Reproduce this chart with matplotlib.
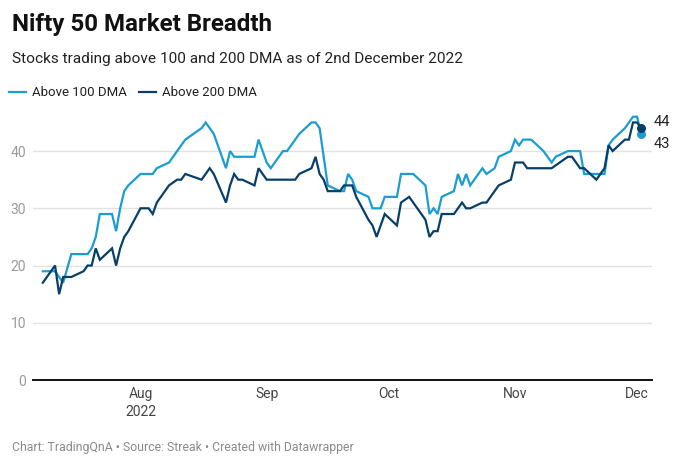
import matplotlib
matplotlib.use("Agg")
import matplotlib.pyplot as plt
import pandas as pd

# ---- data ----
dma100_dates = ["2022-07-08", "2022-07-11", "2022-07-13", "2022-07-15", "2022-07-19", "2022-07-20",
                "2022-07-21", "2022-07-22", "2022-07-25", "2022-07-26", "2022-07-27", "2022-07-28",
                "2022-07-29", "2022-08-01", "2022-08-04", "2022-08-05", "2022-08-08", "2022-08-12",
                "2022-08-16", "2022-08-17", "2022-08-19", "2022-08-22", "2022-08-23", "2022-08-24",
                "2022-08-29", "2022-08-30", "2022-09-01", "2022-09-02", "2022-09-05", "2022-09-06",
                "2022-09-09", "2022-09-12", "2022-09-13", "2022-09-14", "2022-09-16", "2022-09-19",
                "2022-09-20", "2022-09-21", "2022-09-22", "2022-09-23", "2022-09-26", "2022-09-27",
                "2022-09-29", "2022-09-30", "2022-10-03", "2022-10-04", "2022-10-07", "2022-10-10",
                "2022-10-11", "2022-10-12", "2022-10-13", "2022-10-14", "2022-10-17", "2022-10-18",
                "2022-10-19", "2022-10-20", "2022-10-21", "2022-10-24", "2022-10-25", "2022-10-27",
                "2022-10-28", "2022-10-31", "2022-11-01", "2022-11-02", "2022-11-03", "2022-11-05",
                "2022-11-08", "2022-11-10", "2022-11-11", "2022-11-14", "2022-11-17", "2022-11-18",
                "2022-11-22", "2022-11-23", "2022-11-24", "2022-11-25", "2022-11-28", "2022-11-29",
                "2022-11-30", "2022-12-01", "2022-12-02"]
dma100_values = [19, 19, 17, 22, 22, 23,
                 25, 29, 29, 26, 30, 33,
                 34, 36, 36, 37, 38, 42,
                 44, 45, 43, 37, 40, 39,
                 39, 42, 38, 37, 40, 40,
                 43, 45, 45, 44, 34, 33,
                 33, 36, 35, 33, 32, 30,
                 30, 32, 32, 36, 36, 34,
                 29, 30, 29, 32, 33, 36,
                 34, 36, 34, 37, 36, 37,
                 39, 40, 42, 41, 42, 42,
                 40, 38, 39, 40, 40, 36,
                 36, 36, 41, 42, 44, 45,
                 46, 46, 43]

dma200_dates = ["2022-07-08", "2022-07-11", "2022-07-12", "2022-07-13", "2022-07-15", "2022-07-18",
                "2022-07-19", "2022-07-20", "2022-07-21", "2022-07-22", "2022-07-25", "2022-07-26",
                "2022-07-27", "2022-07-28", "2022-07-29", "2022-08-01", "2022-08-03", "2022-08-04",
                "2022-08-05", "2022-08-08", "2022-08-10", "2022-08-11", "2022-08-12", "2022-08-16",
                "2022-08-18", "2022-08-19", "2022-08-22", "2022-08-23", "2022-08-24", "2022-08-25",
                "2022-08-26", "2022-08-29", "2022-08-30", "2022-09-01", "2022-09-08", "2022-09-09",
                "2022-09-12", "2022-09-13", "2022-09-14", "2022-09-15", "2022-09-16", "2022-09-19",
                "2022-09-20", "2022-09-22", "2022-09-23", "2022-09-26", "2022-09-27", "2022-09-28",
                "2022-09-30", "2022-10-03", "2022-10-04", "2022-10-06", "2022-10-07", "2022-10-10",
                "2022-10-11", "2022-10-12", "2022-10-13", "2022-10-14", "2022-10-17", "2022-10-19",
                "2022-10-20", "2022-10-21", "2022-10-24", "2022-10-25", "2022-10-28", "2022-10-31",
                "2022-11-01", "2022-11-03", "2022-11-04", "2022-11-10", "2022-11-14", "2022-11-15",
                "2022-11-17", "2022-11-18", "2022-11-21", "2022-11-22", "2022-11-23", "2022-11-24",
                "2022-11-25", "2022-11-28", "2022-11-29", "2022-11-30", "2022-12-01", "2022-12-02"]
dma200_values = [17, 20, 15, 18, 18, 19,
                 20, 20, 23, 21, 23, 20,
                 23, 25, 26, 30, 30, 29,
                 31, 34, 35, 35, 36, 35,
                 37, 36, 31, 34, 36, 35,
                 35, 34, 37, 35, 35, 36,
                 37, 39, 36, 35, 33, 33,
                 34, 34, 32, 28, 27, 25,
                 29, 27, 31, 32, 31, 28,
                 25, 26, 26, 29, 29, 31,
                 30, 30, 31, 31, 34, 35,
                 38, 38, 37, 37, 39, 39,
                 37, 37, 35, 36, 37, 41,
                 40, 42, 42, 45, 45, 44]

series_names = ["Above 100 DMA", "Above 200 DMA"]
y_ticks = [0, 10, 20, 30, 40]
x_tick_dates = ["2022-08-01", "2022-09-01", "2022-10-01", "2022-11-01", "2022-12-01"]
x_tick_labels = ["Aug\n2022", "Sep", "Oct", "Nov", "Dec"]

title = "Nifty 50 Market Breadth"
subtitle = "Stocks trading above 100 and 200 DMA as of 2nd December 2022"
footer = "Chart: TradingQnA • Source: Streak • Created with Datawrapper"

# ---- styling ----
LIGHT = "#1a9dd0"
DARK = "#063f69"
plt.rcParams['font.family'] = ['Roboto', 'DejaVu Sans']

W, H = 689, 467
fig = plt.figure(figsize=(W / 100, H / 100), dpi=100)
fig.patch.set_facecolor("white")

ax = fig.add_axes([33 / W, 1 - 380 / H, (652 - 33) / W, (380 - 111) / H])

d100 = pd.to_datetime(dma100_dates)
d200 = pd.to_datetime(dma200_dates)

l1, = ax.plot(d100, dma100_values, color=LIGHT, lw=1.6, solid_joinstyle="miter", zorder=3,
              label=series_names[0])
l2, = ax.plot(d200, dma200_values, color=DARK, lw=1.6, solid_joinstyle="miter", zorder=4,
              label=series_names[1])

# end dots and labels
ax.scatter([d100[-1]], [dma100_values[-1]], s=30, color=LIGHT, zorder=5, clip_on=False)
ax.scatter([d200[-1]], [dma200_values[-1]], s=30, color=DARK, zorder=6, clip_on=False)
ax.annotate(str(dma200_values[-1]), (d200[-1], dma200_values[-1]), xytext=(9, 4.5),
            textcoords="offset points", va="center", ha="left", fontsize=10.5, color="#222222",
            annotation_clip=False)
ax.annotate(str(dma100_values[-1]), (d100[-1], dma100_values[-1]), xytext=(9, -7.5),
            textcoords="offset points", va="center", ha="left", fontsize=10.5, color="#222222",
            annotation_clip=False)

ax.set_xlim(pd.Timestamp("2022-07-05 14:00"), pd.Timestamp("2022-12-04 16:00"))
ax.set_ylim(0, 47)

ax.set_yticks(y_ticks)
ax.set_yticklabels([str(v) for v in y_ticks])
ax.set_xticks(pd.to_datetime(x_tick_dates))
ax.set_xticklabels(x_tick_labels)
ax.tick_params(axis="y", length=0, pad=5, labelsize=10, labelcolor="#9a9a9a")
ax.tick_params(axis="x", length=0, pad=5, labelsize=10, labelcolor="#444444")
for lbl in ax.get_xticklabels():
    lbl.set_linespacing(1.35)

for s in ["top", "right", "left"]:
    ax.spines[s].set_visible(False)
ax.spines["bottom"].set_color("#111111")
ax.spines["bottom"].set_linewidth(1.4)
ax.spines["bottom"].set_zorder(7)

for v in y_ticks[1:]:
    ax.axhline(v, color="#e2e2e2", lw=1.0, zorder=1)

# texts
fig.text(12 / W, 1 - 24 / H, title, fontsize=17.4, fontweight="bold", color="#111111",
         va="center", ha="left")
fig.text(12 / W, 1 - 59 / H, subtitle, fontsize=11.1, color="#222222", va="center", ha="left")
fig.text(12 / W, 1 - 448 / H, footer, fontsize=8.8, color="#8a8a8a", va="center", ha="left")

leg = fig.legend(handles=[l1, l2], labels=series_names, loc="center left",
                 bbox_to_anchor=(4 / W, 1 - 93 / H), ncol=2, frameon=False, fontsize=9.5,
                 handlelength=1.3, handletextpad=0.45, columnspacing=0.9, borderaxespad=0)
for t in leg.get_texts():
    t.set_color("#222222")

fig.savefig("out.png", dpi=100, facecolor="white")
